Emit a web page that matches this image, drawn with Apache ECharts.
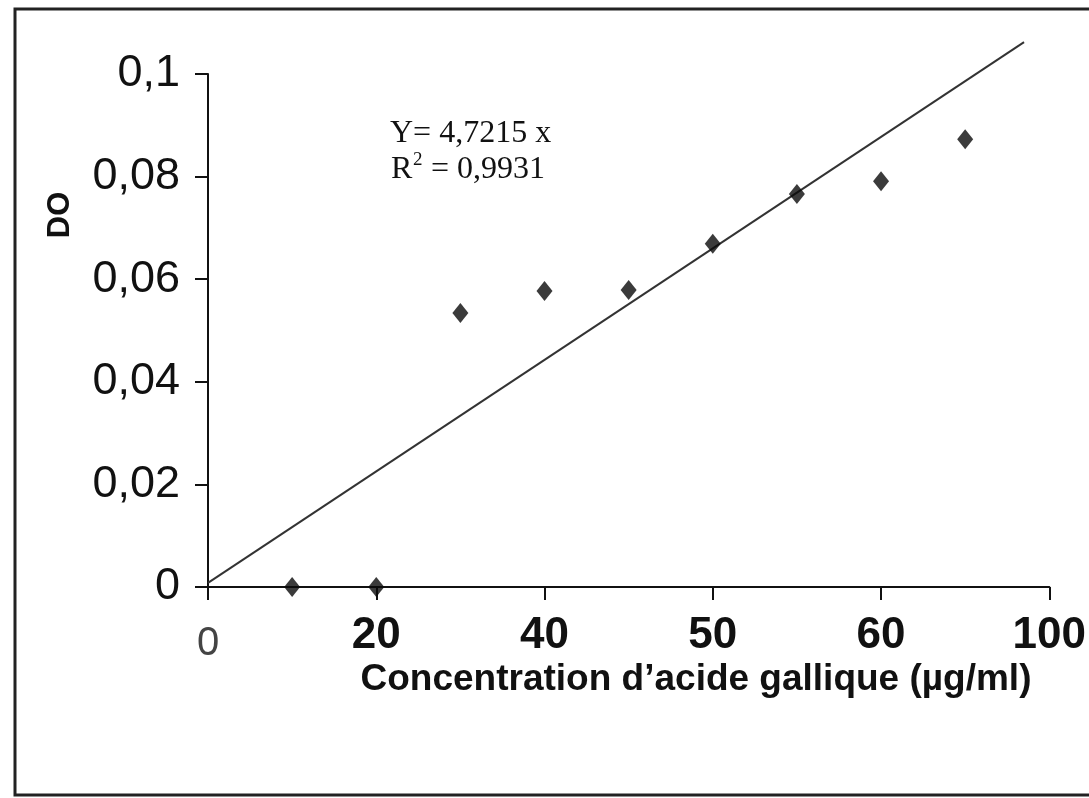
<!DOCTYPE html>
<html>
<head>
<meta charset="utf-8">
<script src="https://cdn.jsdelivr.net/npm/echarts@6/dist/echarts.min.js"></script>
<style>html,body{margin:0;padding:0;background:#fff}#c{width:1089px;height:798px}</style>
</head>
<body>
<div id="c"></div>
<script>
// tick positions are evenly spaced (index 0..10, ticks every 2); labels as printed on the original
const xTickLabels = ['0', '20', '40', '50', '60', '100'];
const xPositions = [1, 2, 3, 4, 5, 6, 7, 8, 9];
const doValues = [0, 0, 0.0534, 0.0577, 0.0579, 0.0669, 0.0766, 0.0791, 0.0873];
const trendX = [0, 9.7];
const trendY = [0.0008, 0.1062];
const equationLine1 = 'Y= 4,7215 x';
const equationLine2 = ['R', '2', '= 0,9931'];

const chart = echarts.init(document.getElementById('c'));
const sans = "'Liberation Sans', Arial, sans-serif";
const serif = "'Liberation Serif', 'Times New Roman', serif";
chart.setOption({
  backgroundColor: '#fff',
  animation: false,
  grid: { left: 208, right: 37, top: 74, bottom: 211 },
  xAxis: {
    type: 'value', min: 0, max: 10, interval: 2,
    splitLine: { show: false },
    axisLine: { lineStyle: { color: '#111', width: 2 } },
    axisTick: { inside: false, length: 13, lineStyle: { color: '#111', width: 2 } },
    axisLabel: {
      margin: 27,
      color: '#111',
      fontFamily: sans,
      fontWeight: 'bold',
      fontSize: 44,
      formatter: v => {
        const s = xTickLabels[Math.round(v / 2)];
        return v === 0 ? '{z|' + s + '}' : s;
      },
      rich: { z: { fontFamily: sans, fontWeight: 'normal', fontSize: 40, padding: [10, 0, 0, 0], color: '#444' } }
    }
  },
  yAxis: {
    type: 'value', min: 0, max: 0.1, interval: 0.02,
    splitLine: { show: false },
    axisLine: { show: true, lineStyle: { color: '#111', width: 2 } },
    axisTick: { show: true, inside: false, length: 13, lineStyle: { color: '#111', width: 2 } },
    axisLabel: {
      margin: 28,
      color: '#111',
      fontFamily: sans,
      fontSize: 45,
      formatter: v => Number(v.toFixed(2)).toString().replace('.', ',')
    }
  },
  series: [
    {
      type: 'line',
      data: trendX.map((x, i) => [x, trendY[i]]),
      symbol: 'none',
      clip: false,
      lineStyle: { color: '#333', width: 2 },
      z: 2
    },
    {
      type: 'scatter',
      data: xPositions.map((x, i) => [x, doValues[i]]),
      symbol: 'diamond',
      symbolSize: [16, 20],
      itemStyle: { color: '#0a0a0a' },
      z: 3
    }
  ],
  graphic: [
    { type: 'rect', shape: { x: 15, y: 9, width: 1100, height: 786 }, style: { fill: 'none', stroke: '#222', lineWidth: 3 }, silent: true },
    {
      type: 'text', x: 60, y: 215, rotation: Math.PI / 2,
      style: { text: 'DO', font: "bold 31px 'Liberation Sans', Arial, sans-serif", fill: '#111', align: 'center', verticalAlign: 'middle' }
    },
    {
      type: 'text', x: 696, y: 680,
      style: { text: 'Concentration d\u2019acide gallique (\u00b5g/ml)', font: "bold 37px 'Liberation Sans', Arial, sans-serif", fill: '#111', align: 'center', verticalAlign: 'middle' }
    },
    {
      type: 'text', x: 390, y: 134,
      style: { text: equationLine1, font: "32px 'Liberation Serif', 'Times New Roman', serif", fill: '#111', align: 'left', verticalAlign: 'middle' }
    },
    {
      type: 'text', x: 391, y: 170,
      style: { text: equationLine2[0], font: "32px 'Liberation Serif', 'Times New Roman', serif", fill: '#111', align: 'left', verticalAlign: 'middle' }
    },
    {
      type: 'text', x: 413, y: 160,
      style: { text: equationLine2[1], font: "19px 'Liberation Serif', 'Times New Roman', serif", fill: '#111', align: 'left', verticalAlign: 'middle' }
    },
    {
      type: 'text', x: 431, y: 170,
      style: { text: equationLine2[2], font: "32px 'Liberation Serif', 'Times New Roman', serif", fill: '#111', align: 'left', verticalAlign: 'middle' }
    }
  ]
});
</script>
</body>
</html>
